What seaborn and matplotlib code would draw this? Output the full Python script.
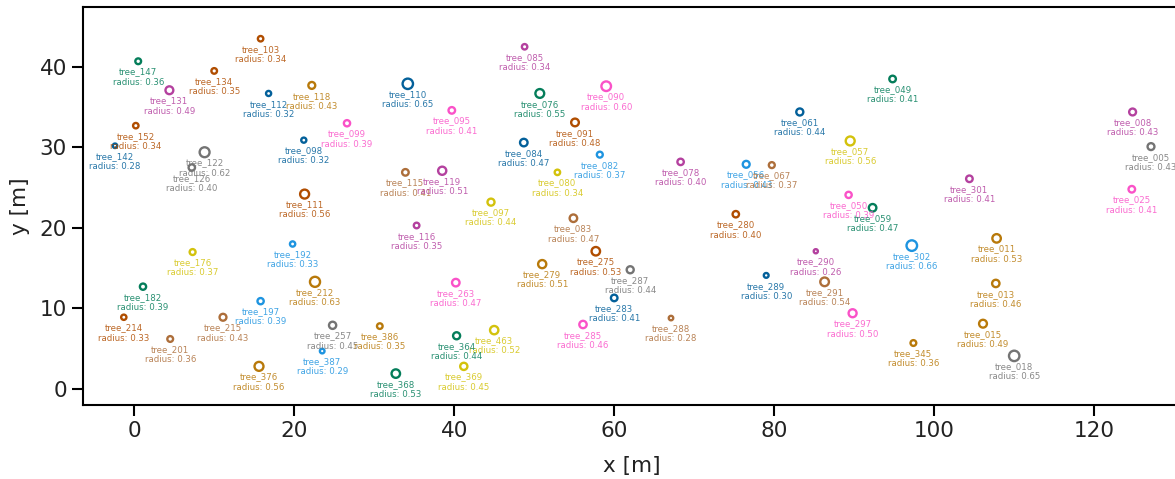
import matplotlib
matplotlib.use("Agg")
import matplotlib.pyplot as plt
import seaborn as sns
import pandas as pd

# Tree inventory: id, stem position (m), crown radius (m) and species group
tree_ids = [
    "103", "147", "134", "131", "112", "118", "099", "152", "142", "098", "122", "126", "111",
    "192", "176", "212", "182", "197", "214", "215", "201", "257", "387", "376", "386",
    "085", "110", "076", "090", "095", "091", "084", "082", "115", "119", "080", "097",
    "116", "083", "275", "279", "287", "263", "283", "285", "463", "364", "369", "368", "288",
    "049", "061", "057", "078", "056", "067", "050", "059",
    "280", "302", "290", "289", "291", "297", "345",
    "008", "005", "301", "025",
    "011", "013", "015", "018",
]
x_pos = [
    15.8, 0.5, 10.0, 4.4, 16.8, 22.2, 26.6, 0.2, -2.4, 21.2, 8.8, 7.2, 21.3,
    19.8, 7.3, 22.6, 1.1, 15.8, -1.3, 11.1, 4.5, 24.8, 23.5, 15.6, 30.7,
    48.8, 34.2, 50.7, 59.0, 39.7, 55.1, 48.7, 58.2, 33.9, 38.5, 52.9, 44.6,
    35.3, 54.9, 57.7, 51.0, 62.0, 40.2, 60.0, 56.1, 45.0, 40.3, 41.2, 32.7, 67.1,
    94.8, 83.2, 89.5, 68.3, 76.5, 79.7, 89.3, 92.3,
    75.2, 97.2, 85.2, 79.0, 86.3, 89.8, 97.4,
    124.8, 127.1, 104.4, 124.7,
    107.8, 107.7, 106.1, 110.0,
]
y_pos = [
    43.5, 40.7, 39.5, 37.1, 36.7, 37.7, 33.0, 32.7, 30.2, 30.9, 29.4, 27.5, 24.2,
    18.0, 17.0, 13.3, 12.7, 10.9, 8.9, 8.9, 6.2, 7.9, 4.7, 2.8, 7.8,
    42.5, 37.9, 36.7, 37.6, 34.6, 33.1, 30.6, 29.1, 26.9, 27.1, 26.9, 23.2,
    20.3, 21.2, 17.1, 15.5, 14.8, 13.2, 11.3, 8.0, 7.3, 6.6, 2.8, 1.9, 8.8,
    38.5, 34.4, 30.8, 28.2, 27.9, 27.8, 24.1, 22.5,
    21.7, 17.8, 17.1, 14.1, 13.3, 9.4, 5.7,
    34.4, 30.1, 26.1, 24.8,
    18.7, 13.1, 8.1, 4.1,
]
radius = [
    0.34, 0.36, 0.35, 0.49, 0.32, 0.43, 0.39, 0.34, 0.28, 0.32, 0.62, 0.40, 0.56,
    0.33, 0.37, 0.63, 0.39, 0.39, 0.33, 0.43, 0.36, 0.45, 0.29, 0.56, 0.35,
    0.34, 0.65, 0.55, 0.60, 0.41, 0.48, 0.47, 0.37, 0.41, 0.51, 0.34, 0.44,
    0.35, 0.47, 0.53, 0.51, 0.44, 0.47, 0.41, 0.46, 0.52, 0.44, 0.45, 0.53, 0.28,
    0.41, 0.44, 0.56, 0.40, 0.43, 0.37, 0.39, 0.47,
    0.40, 0.66, 0.26, 0.30, 0.54, 0.50, 0.36,
    0.43, 0.43, 0.41, 0.41,
    0.53, 0.46, 0.49, 0.65,
]
species = [
    "D", "C", "D", "E", "A", "B", "G", "D", "A", "A", "H", "H", "D",
    "J", "I", "B", "C", "J", "D", "F", "F", "H", "J", "B", "B",
    "E", "A", "C", "G", "G", "D", "A", "J", "F", "E", "I", "I",
    "E", "F", "D", "B", "H", "G", "A", "G", "I", "C", "I", "C", "F",
    "C", "A", "I", "E", "J", "F", "G", "C",
    "D", "J", "E", "A", "F", "G", "B",
    "E", "H", "E", "G",
    "B", "B", "B", "H",
]
species_colors = {
    "A": "#03609a", "B": "#b8790a", "C": "#047d5a", "D": "#b04d00", "E": "#b4419f",
    "F": "#ad6e3a", "G": "#fa52c8", "H": "#747474", "I": "#d3c20c", "J": "#1e94e0",
}

df = pd.DataFrame({"tree": tree_ids, "x": x_pos, "y": y_pos,
                   "radius": radius, "species": species})

W, H, DPI = 1175, 479, 100
sns.set_theme(style="ticks")
plt.rcParams["font.family"] = ["DejaVu Sans"]

fig = plt.figure(figsize=(W / DPI, H / DPI), dpi=DPI)
ax_left, ax_bottom, ax_w, ax_h = 83, 74, 1098, 398
ax = fig.add_axes([ax_left / W, ax_bottom / H, ax_w / W, ax_h / H])

x_lim = (-6.4, -6.4 + ax_w / 8.0)
y_lim = (-2.0, -2.0 + ax_h / 8.05)
ax.set_xlim(*x_lim)
ax.set_ylim(*y_lim)

# marker diameter equals the crown diameter in data units
pt_per_unit = 8.0 * 72.0 / DPI
size_map = {r: (2 * r * pt_per_unit) ** 2 for r in sorted(set(radius))}

sns.scatterplot(data=df, x="x", y="y", hue="species", palette=species_colors,
                size="radius", sizes=size_map, legend=False, ax=ax,
                linewidth=1.7, zorder=3)
coll = ax.collections[0]
fc = coll.get_facecolors()
coll.set_edgecolors(fc)
coll.set_facecolors("none")

for _, row in df.iterrows():
    ax.annotate(f"tree_{row.tree}\nradius: {row.radius:.2f}",
                xy=(row.x, row.y), xytext=(0, -4.5), textcoords="offset points",
                ha="center", va="top", fontsize=6.2, linespacing=1.15,
                color=species_colors[row.species], alpha=0.85, zorder=4,
                annotation_clip=False)

ax.set_xticks([0, 20, 40, 60, 80, 100, 120])
ax.set_yticks([0, 10, 20, 30, 40])
ax.tick_params(axis="both", labelsize=15.5, length=8, width=1.5, color="black",
               labelcolor="#222222")
ax.set_xlabel("x [m]", fontsize=15.5, color="#222222", labelpad=11)
ax.set_ylabel("y [m]", fontsize=15.5, color="#222222", labelpad=7)
for side in ["left", "bottom", "top", "right"]:
    ax.spines[side].set_visible(True)
    ax.spines[side].set_linewidth(1.5)
    ax.spines[side].set_color("black")

fig.savefig("out.png", dpi=DPI)
